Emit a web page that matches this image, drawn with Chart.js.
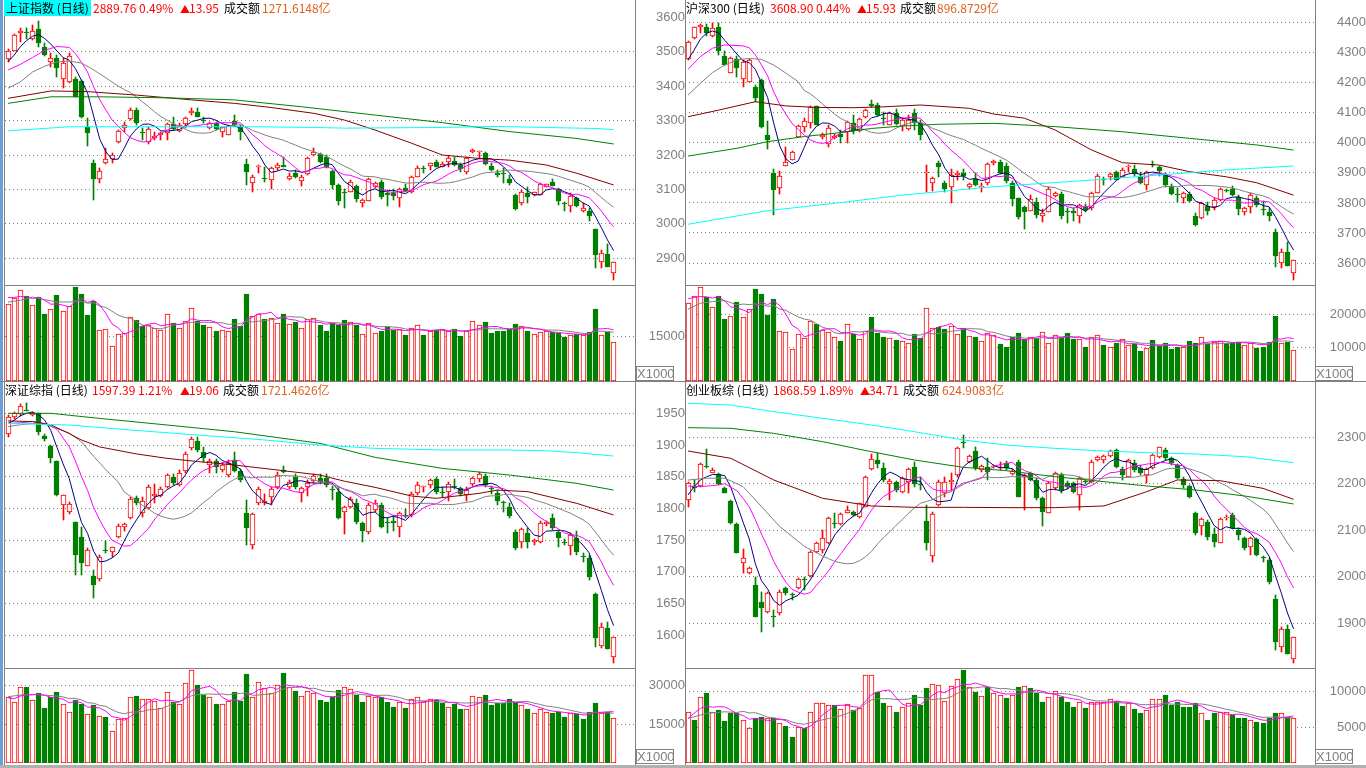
<!DOCTYPE html>
<html>
<head>
<meta charset="utf-8">
<script src="https://cdn.jsdelivr.net/npm/chart.js@4.4.1/dist/chart.umd.min.js"></script>
<style>
  body { margin: 0; width: 1366px; height: 768px; overflow: hidden; position: relative; background: #fff;
         font-family: "Noto Sans CJK SC", sans-serif; }
  canvas { position: absolute; }
  .ln { position: absolute; background: #808080; }
  .t { position: absolute; font-size: 12px; line-height: 16px; white-space: nowrap; z-index: 5; }
  .tri { font-size: 10px; }
  .red { color: #ff0000; }
  .org { color: #e0601e; }
  .x1000 { position: absolute; z-index: 5; border: 1px solid #808080; color: #808080; background: #fff;
           font: 13px "Liberation Sans", sans-serif; line-height: 13px; width: 36px; height: 13px; text-align: center; }
</style>
</head>
<body>
<!-- frame lines -->
<div class="ln" style="left:0;top:0;width:3px;height:768px;background:#6c9fd6"></div>
<div class="ln" style="left:4px;top:0;width:1px;height:765px"></div>
<div class="ln" style="left:635px;top:0;width:1px;height:765px"></div>
<div class="ln" style="left:685px;top:0;width:1px;height:765px"></div>
<div class="ln" style="left:1315px;top:0;width:1px;height:765px"></div>
<div class="ln" style="left:5px;top:285px;width:630px;height:1px"></div>
<div class="ln" style="left:685px;top:285px;width:630px;height:1px"></div>
<div class="ln" style="left:0;top:381px;width:1366px;height:1px"></div>
<div class="ln" style="left:5px;top:668px;width:630px;height:1px"></div>
<div class="ln" style="left:685px;top:668px;width:630px;height:1px"></div>
<div class="ln" style="left:0;top:765px;width:1366px;height:3px;background:#b0b0b0"></div>

<canvas id="c1" width="685" height="285" style="left:0;top:0"></canvas>
<canvas id="v1" width="685" height="95" style="left:0;top:286px"></canvas>
<canvas id="c2" width="681" height="285" style="left:685px;top:0"></canvas>
<canvas id="v2" width="681" height="95" style="left:685px;top:286px"></canvas>
<canvas id="c3" width="685" height="286" style="left:0;top:382px"></canvas>
<canvas id="v3" width="685" height="94" style="left:0;top:669px"></canvas>
<canvas id="c4" width="681" height="286" style="left:685px;top:382px"></canvas>
<canvas id="v4" width="681" height="94" style="left:685px;top:669px"></canvas>

<!-- titles -->
<div class="t" style="left:4px;top:0;width:87px;height:16px;background:#00ffff;z-index:4"></div>
<div class="t" style="left:6px;top:0">上证指数 (日线)</div>
<div class="t red" style="left:93px;top:0">2889.76 0.49%</div>
<div class="t red tri" style="left:180px;top:1px">▲</div>
<div class="t red" style="left:189px;top:0">13.95</div>
<div class="t" style="left:224px;top:0">成交额</div>
<div class="t org" style="left:262px;top:0">1271.6148亿</div>

<div class="t" style="left:686px;top:0">沪深300 (日线)</div>
<div class="t red" style="left:770px;top:0">3608.90 0.44%</div>
<div class="t red tri" style="left:857px;top:1px">▲</div>
<div class="t red" style="left:866px;top:0">15.93</div>
<div class="t" style="left:900px;top:0">成交额</div>
<div class="t org" style="left:937px;top:0">896.8729亿</div>

<div class="t" style="left:5px;top:382px">深证综指 (日线)</div>
<div class="t red" style="left:92px;top:382px">1597.39 1.21%</div>
<div class="t red tri" style="left:180px;top:383px">▲</div>
<div class="t red" style="left:189px;top:382px">19.06</div>
<div class="t" style="left:223px;top:382px">成交额</div>
<div class="t org" style="left:261px;top:382px">1721.4626亿</div>

<div class="t" style="left:686px;top:382px">创业板综 (日线)</div>
<div class="t red" style="left:773px;top:382px">1868.59 1.89%</div>
<div class="t red tri" style="left:860px;top:383px">▲</div>
<div class="t red" style="left:869px;top:382px">34.71</div>
<div class="t" style="left:903px;top:382px">成交额</div>
<div class="t org" style="left:942px;top:382px">624.9083亿</div>

<div class="x1000" style="left:636px;top:366px">X1000</div>
<div class="x1000" style="left:1315px;top:366px">X1000</div>
<div class="x1000" style="left:636px;top:749px">X1000</div>
<div class="x1000" style="left:1315px;top:749px">X1000</div>

<script>
// ---------- 上证指数 ----------
const shOpen = [3478,3503,3553,3558,3536,3566,3514,3471,3481,3420, 3411,3421,3415,3282,3176,3129,3176,3188,3239,3277,
  3304,3331,3267,3239,3248,3259,3263,3290,3270,3290, 3321,3324,3299,3277,3292,3268,3258,3300,3282,3174,
  3119,3166,3131,3127,3161,3171,3130,3149,3125,3145, 3200,3203,3195,3153,3113,3093,3093,3110,3061,3067,
  3108,3122,3089,3090,3074,3103,3093,3137,3161,3169, 3180,3166,3180,3182,3171,3151,3208,3208,3205,3169,
  3149,3148,3130,3084,3061,3089,3084,3084,3108,3122, 3100,3059,3053,3074,3038,3038,2984,2888,2912,2856];
const shHigh = [3508,3551,3568,3568,3577,3590,3524,3495,3490,3481, 3495,3427,3418,3306,3185,3161,3219,3205,3273,3297,
  3336,3336,3277,3282,3268,3268,3292,3311,3292,3311, 3336,3337,3309,3296,3296,3282,3287,3316,3287,3187,
  3142,3171,3166,3166,3176,3195,3147,3156,3142,3194, 3219,3207,3200,3156,3116,3101,3127,3113,3072,3132,
  3121,3127,3098,3100,3103,3116,3140,3168,3169,3178, 3185,3180,3197,3193,3176,3195,3216,3212,3209,3176,
  3156,3161,3142,3087,3098,3108,3093,3118,3116,3129, 3104,3064,3089,3078,3061,3045,2985,2924,2941,2888];
const shLow = [3470,3502,3529,3537,3535,3514,3488,3456,3426,3394, 3410,3369,3306,3226,3069,3118,3175,3176,3235,3268,
  3302,3287,3243,3232,3243,3243,3245,3272,3268,3277, 3316,3309,3292,3275,3272,3253,3258,3284,3243,3113,
  3093,3147,3123,3100,3156,3164,3127,3133,3110,3142, 3197,3176,3161,3100,3055,3046,3092,3064,3049,3066,
  3104,3071,3052,3069,3049,3093,3090,3135,3147,3156, 3164,3166,3166,3169,3151,3145,3205,3190,3171,3154,
  3137,3118,3113,3041,3055,3061,3081,3083,3107,3110, 3055,3038,3035,3049,3035,3009,2871,2871,2874,2837];
const shClose = [3502,3548,3561,3553,3560,3526,3490,3481,3452,3466, 3488,3369,3311,3265,3129,3154,3187,3200,3270,3287,
  3331,3292,3265,3275,3255,3263,3289,3275,3287,3306, 3328,3311,3298,3292,3275,3280,3284,3287,3268,3151,
  3137,3169,3129,3161,3171,3166,3139,3135,3137,3190, 3210,3179,3166,3113,3067,3090,3122,3071,3069,3129,
  3118,3077,3084,3081,3100,3096,3137,3163,3159,3176, 3166,3174,3192,3171,3159,3190,3214,3212,3173,3156,
  3143,3146,3118,3043,3093,3077,3092,3116,3115,3110, 3067,3057,3082,3052,3045,3024,2910,2914,2874,2890];
const shVol = [26062,27972,30667,28646,25613,28197,22693,24265,28983,23592, 25164,31790,29431,22356,27073,17303,17528,11913,15843,16180,
  21682,20672,18426,18763,17864,17303,22581,19549,17864,20335, 24603,20110,18763,18314,16966,17303,16966,21009,18426,29431,
  21794,22581,21009,21233,19549,22693,19324,19773,17864,21009, 21233,18763,16742,19549,18987,20447,19886,18763,15956,19549,
  16180,16742,18089,17078,17640,15394,17864,18875,15619,16742, 17078,17528,16742,17528,15282,16742,20110,18763,19886,16180,
  16966,16966,17640,19324,18426,16966,15956,16517,16742,16405, 16180,14721,15619,15956,15394,16517,24378,15619,16517,13149];
const shMa5Head = [[0,3471],[1,3490],[2,3514],[3,3532]];
const shMa10Head = [[0,3447],[2,3463],[4,3483],[6,3504],[8,3515]];
const shMa20Head = [[0,3394],[2,3412],[4,3441],[6,3458],[8,3470],[10,3473],[12,3467],[14,3447],[16,3424],[18,3400]];
const shMa60 = [[0,3364.5],[7,3386],[13,3384],[21,3374],[30,3360],[37,3350],[43,3338],[50,3321],[55,3301.5],[60,3272.5],[66,3234],[71,3200],[77,3190],[82,3185],[88,3171],[93,3147],[99,3113]];
const shMa120 = [[0,3350],[7,3369],[15,3369],[26,3366],[37,3360],[48,3340],[60,3316],[71,3294],[82,3268],[93,3248],[99,3232]];
const shMa250 = [[0,3270],[10,3282],[20,3282],[30,3282],[40,3282],[50,3280],[55,3278],[71,3280],[80,3283],[85,3281],[96,3277],[99,3274]];
const shVolMa5Head = [[0,28170],[1,28170],[2,28500],[3,28300]];
const shVolMa10Head = [[0,26620],[2,27200],[4,28300],[6,27400],[8,26600]];
const shTicks = [3600,3500,3400,3300,3200,3100,3000,2900];
const shVolTicks = [15000];

// ---------- 沪深300 ----------
const hsOpen = [4278,4348,4387,4385,4356,4387,4289,4234,4278,4213, 4204,4185,4209,4026,3899,3849,3924,3943,4020,4052,
  4065,4123,4018,3996,4015,4029,4037,4065,4040,4087, 4129,4126,4082,4059,4098,4057,4045,4098,4067,3899,
  3865,3932,3867,3854,3893,3901,3852,3879,3852,3865, 3932,3937,3924,3865,3815,3788,3773,3802,3756,3771,
  3823,3830,3773,3774,3757,3788,3782,3834,3878,3885, 3902,3887,3919,3912,3890,3860,3927,3919,3896,3856,
  3828,3815,3830,3757,3749,3790,3788,3810,3843,3845, 3821,3771,3788,3815,3779,3771,3704,3599,3638,3568];
const hsHigh = [4340,4386,4396,4396,4400,4400,4307,4285,4289,4276, 4280,4193,4213,4074,3913,3906,3987,3972,4060,4082,
  4122,4123,4033,4058,4031,4043,4073,4092,4082,4112, 4143,4132,4102,4102,4112,4082,4092,4112,4076,3926,
  3885,3940,3874,3913,3906,3914,3867,3901,3867,3932, 3942,3943,3932,3873,3817,3790,3826,3818,3779,3852,
  3836,3836,3782,3782,3796,3796,3838,3896,3885,3900, 3907,3916,3926,3926,3904,3907,3940,3924,3901,3863,
  3849,3837,3837,3765,3803,3803,3817,3849,3846,3855, 3826,3788,3832,3823,3808,3782,3712,3647,3671,3610];
const hsLow = [4276,4347,4365,4356,4353,4292,4259,4233,4218,4185, 4203,4137,4048,3978,3760,3830,3924,3943,4018,4037,
  4048,4059,4014,3987,4012,4000,4000,4031,4037,4082, 4118,4090,4058,4058,4058,4040,4042,4043,4010,3837,
  3840,3885,3838,3800,3877,3877,3846,3855,3837,3860, 3926,3896,3868,3790,3746,3712,3773,3749,3738,3771,
  3821,3746,3732,3739,3734,3769,3777,3832,3860,3876, 3876,3887,3902,3891,3862,3843,3921,3890,3853,3826,
  3804,3801,3804,3723,3747,3759,3777,3806,3838,3822, 3760,3760,3768,3785,3760,3741,3586,3583,3590,3544];
const hsClose = [4337,4385,4392,4367,4381,4307,4259,4282,4248,4270, 4276,4148,4054,4010,3843,3891,3937,3969,4056,4073,
  4118,4059,4026,4050,4023,4020,4068,4040,4078,4109, 4123,4093,4080,4098,4063,4076,4076,4067,4026,3904,
  3882,3919,3845,3893,3901,3891,3862,3860,3857,3929, 3938,3901,3873,3812,3752,3769,3812,3760,3765,3845,
  3832,3758,3769,3766,3793,3777,3834,3890,3876,3896, 3876,3910,3924,3896,3865,3904,3925,3907,3860,3830,
  3826,3834,3808,3727,3801,3774,3810,3845,3840,3826, 3779,3782,3826,3793,3777,3757,3623,3638,3590,3609];
const hsVol = [23283,25479,28074,25080,22185,25479,18593,19491,23582,19191, 21487,27574,26077,19790,24580,14999,14600,9511,14001,12904,
  17994,17096,15299,14800,13104,12006,16996,14001,12505,15100, 19291,14500,13303,12804,12305,12006,11307,14101,13004,21786,
  15998,16297,15598,16497,14101,15998,13603,13303,12006,14301, 13803,11107,10309,13104,14301,12505,13104,13004,14600,11307,
  13803,13104,14301,12505,12505,10309,13303,13803,10809,10309, 11307,12505,10809,11107,9012,9811,12305,10509,11307,9611,
  10110,10309,12006,11506,13104,11107,11606,12105,11307,11307, 11606,10907,11506,10010,10309,11606,19491,11506,11805,9311];
const hsMa5Head = [[0,4278],[1,4309],[2,4345],[3,4365]];
const hsMa10Head = [[0,4245],[2,4287],[4,4315],[6,4326],[8,4324]];
const hsMa20Head = [[0,4159],[2,4198],[4,4234],[6,4259],[8,4276],[10,4281],[12,4278],[14,4259],[16,4232],[18,4204]];
const hsMa60 = [[0,4087],[5,4109],[11,4137],[16,4123],[21,4118],[27,4117],[32,4120],[38,4126],[46,4115],[50,4096],[55,4082],[60,4043],[66,3976],[71,3934],[77,3926],[82,3904],[88,3887],[93,3867],[99,3826]];
const hsMa120 = [[0,3956],[8,3982],[13,4004],[19,4021],[24,4032],[30,4048],[35,4056],[41,4062],[50,4065],[60,4054],[71,4037],[82,4015],[93,3993],[99,3976]];
const hsMa250 = [[0,3729],[13,3774],[24,3799],[35,3826],[50,3854],[66,3876],[77,3893],[88,3910],[99,3923]];
const hsVolMa5Head = [[0,24580],[1,25000],[2,25300],[3,25200]];
const hsVolMa10Head = [[0,21500],[2,23280],[4,23780],[6,24080],[8,22780]];
const hsTicks = [4400,4300,4200,4100,4000,3900,3800,3700,3600];
const hsVolTicks = [20000,10000];

// ---------- 深证综指 ----------
const szOpen = [1917.4,1943.7,1948.5,1956,1947.4,1950,1914,1898.5,1875.3,1805.5, 1794.9,1779,1755.5,1709,1693.5,1688.4,1734,1732,1754.5,1770.3,
  1784.5,1816,1793,1800.3,1820,1819.7,1834.3,1849,1837,1859.5, 1894.8,1906.3,1889.5,1868.5,1874.8,1860.6,1852.7,1876.4,1859.5,1792.4,
  1742.4,1808,1809,1818,1833.4,1860.6,1833.4,1849,1824,1833.4, 1843.8,1848.6,1848.6,1830,1826.5,1794.9,1802.8,1808,1777.4,1763.4,
  1797.6,1805.5,1778,1780.7,1771.3,1790,1789.7,1824,1833.4,1837, 1846.4,1826.5,1826.5,1834,1831.5,1821,1838.6,1846,1851.2,1832,
  1825,1808.4,1801.8,1763.4,1747.6,1760.8,1746.6,1747.6,1775.5,1784.5, 1763.4,1745.3,1741.3,1753,1725,1721.4,1665.2,1583.2,1611,1566.3];
const szHigh = [1947,1952.6,1964.7,1966,1952.6,1950,1917.4,1900,1875.3,1821, 1810,1779,1771,1737,1703,1727,1748,1740,1776,1777.4,
  1818,1820,1818,1837,1838.6,1834,1855,1854.4,1860,1889, 1912,1913,1897.5,1877.5,1877.5,1871,1876.4,1889.5,1862,1813.4,
  1792.4,1834,1823,1834,1857,1867,1845,1854.4,1834,1845, 1855,1854.4,1854.4,1835.4,1834,1804.4,1818,1815,1779,1808,
  1813.4,1808,1784.5,1790,1794.9,1798.7,1826,1841,1835.5,1846, 1849.6,1834,1841.7,1846,1834,1834,1849.6,1857,1854.4,1836,
  1829,1811,1808,1765.6,1770,1770,1752.6,1779.5,1780.9,1792, 1766,1751.3,1761.5,1764.6,1729.4,1727,1666.3,1619,1621.5,1597];
const szLow = [1913,1941,1946,1954,1945.8,1915.8,1906.5,1872,1820,1781.8, 1792,1695,1695,1709,1659.3,1686,1730,1724,1753,1764,
  1784,1805,1787,1799,1808,1818,1832,1837,1835,1856, 1892,1889,1874,1855.5,1855.5,1857,1849.6,1858,1841,1742.4,
  1736.6,1806,1806,1805.5,1831,1856,1831,1831,1810.8,1820, 1840.6,1839,1834,1813.4,1783,1760,1800,1776,1747.6,1760.4,
  1795,1768.7,1761.8,1764,1754.5,1785.4,1787,1822,1826,1833, 1823.4,1818.7,1812,1830,1820,1812,1836,1842.3,1834,1823,
  1806,1795,1785,1734,1737.2,1737.2,1742,1745,1772.4,1765.6, 1740,1742.4,1726.7,1727,1716,1687.2,1581,1579.6,1579,1556.8];
const szClose = [1943.7,1950,1961.5,1954,1951,1921,1909,1879,1821,1821, 1807,1726.7,1714.5,1734.5,1679.3,1724,1733.5,1739,1772.4,1775.5,
  1814.4,1809,1811,1833.4,1822.2,1830,1852,1840,1856.4,1886, 1909,1892.2,1879,1874.8,1864.8,1868.5,1872,1859.5,1844.9,1768.7,
  1791.3,1830,1812,1830,1852.8,1858,1842,1833.4,1832,1840.6, 1851.7,1842.3,1837,1828.6,1785.5,1802.8,1814.4,1779,1764.5,1805.5,
  1809,1771.3,1777,1776.6,1792.4,1788.3,1822.3,1837,1835.5,1844.9, 1826.5,1824,1838.6,1833.4,1822.5,1829,1847.6,1854.4,1837,1831,
  1811,1808,1788.3,1737.2,1767,1747.6,1750.3,1777.4,1779.3,1768.7, 1753,1745,1758.2,1731.8,1723.3,1692.4,1595.3,1612.7,1579,1597.4];
const szVol = [25493,23810,29378,29378,24328,27047,21349,25493,27436,22774, 19667,24457,22774,18889,22514,18241,17982,12284,17076,17335,
  25623,25882,24716,24716,23939,21220,27436,23551,22774,30932, 36112,30155,26529,25493,22774,22774,23939,27436,23939,34429,
  25493,31321,29119,27047,30155,34817,29378,27954,25882,28083, 27047,24457,23551,25752,28342,29378,28731,26529,23551,26011,
  25752,25752,23551,21738,23551,21479,24716,25493,23810,24716, 24587,23292,21608,22903,20962,20962,25882,25493,26400,22644,
  23162,23162,24846,23810,22385,20962,19538,20832,19926,19538, 19926,17982,19538,18889,17076,19926,23292,19279,19926,17335];
const szMa5Head = [[0,1934],[1,1939],[2,1946],[3,1950]];
const szMa10Head = [[0,1934],[2,1935],[4,1937],[6,1934],[8,1925]];
const szMa20Head = [[0,1929],[2,1932],[4,1934],[6,1933],[8,1926],[10,1919],[12,1905],[14,1882],[16,1861],[18,1842]];
const szMa60 = [[0,1938],[4,1937],[7,1932],[10,1918],[12,1908],[15,1897],[21,1886],[26,1879],[31,1874],[37,1868.5],[42,1863],[51,1852.7],[55,1843],[60,1833.3],[66,1819.6],[70,1816],[77,1823.8],[80,1829],[85,1826.5],[93,1808],[99,1789.7]];
const szMa120 = [[0,1950],[7,1950],[15,1942],[26,1931.6],[37,1921],[51,1902.7],[60,1880.6],[71,1863.2],[82,1852.7],[93,1839.6],[99,1829]];
const szMa250 = [[0,1934],[10,1931.6],[20,1923.7],[31,1915.8],[42,1908],[51,1900],[60,1894.8],[71,1892.2],[82,1892.2],[88,1891],[93,1888],[99,1882.7]];
const szVolMa5Head = [[0,25300],[1,25000],[2,26000],[3,26500]];
const szVolMa10Head = [[0,25750],[2,26400],[4,26660],[6,26400],[8,26000]];
const szTicks = [1950,1900,1850,1800,1750,1700,1650,1600];
const szVolTicks = [30000,15000];

// ---------- 创业板综 ----------
const cyOpen = [2165.2,2195,2195.3,2238.3,2223.9,2220.3,2191.7,2163,2112.8,2030.4, 2008.9,1982.4,1946.5,1923.6,1916,1921.4,1975.2,1962,1975.2,1994,
  2001.7,2054.1,2057.6,2072,2113.5,2113.5,2137.9,2140.1,2127.9,2150.8, 2231.1,2251.2,2233.3,2199.6,2204.6,2183.1,2204.6,2235.4,2197,2120,
  2044.7,2154.4,2179.5,2204.6,2218.9,2289.5,2247.6,2270.5,2229.7,2235.4, 2235.4,2233.3,2244,2221,2247.6,2215.3,2222.5,2208.2,2168.8,2136.5,
  2190.2,2220.3,2201,2201,2176,2204.8,2204.6,2251.2,2251.2,2259.8, 2272.7,2231.1,2215.3,2244,2233.3,2218.9,2233.3,2258.4,2272.7,2254.8,
  2240.4,2209.6,2195.3,2136.5,2109.2,2118.6,2092,2073.4,2125.7,2132.9, 2100.6,2082.7,2064.8,2080.6,2040,2036.1,1951.5,1849.8,1887,1822.5];
const cyHigh = [2204.6,2208,2244,2274.8,2233.3,2222.5,2193.8,2165.2,2115,2059, 2021.8,2000.3,1968,1968,1928.6,1971.6,1978.8,1964.4,1996.7,2000.3,
  2056.2,2075.5,2100.6,2129.3,2136.5,2136.5,2152.2,2142.2,2159.4,2216.8, 2264,2265.5,2245.4,2209.6,2206.7,2213.9,2233.3,2247.6,2213.9,2154.4,
  2140,2208.2,2215.3,2222.5,2279.8,2304.9,2261.9,2279.8,2240.4,2254.8, 2240.4,2247.6,2249.7,2231.1,2251.2,2220.3,2226,2211.7,2172.3,2204.6,
  2226.1,2222.5,2205,2204.6,2215.3,2208.2,2251.2,2259.8,2261.9,2272.7, 2274.8,2235.4,2252.6,2251.2,2240.4,2233.3,2264,2279.8,2276.3,2258.4,
  2242.6,2215.3,2197.4,2140.1,2125.7,2122.1,2104.2,2125.7,2132.9,2136.5, 2104.2,2086.3,2086.3,2082.7,2044.7,2039.7,1960.9,1892.8,1896.3,1871.3];
const cyLow = [2149.4,2183,2193.8,2233.3,2222.5,2197.4,2179.5,2113.5,2050.5,2008.9, 2006,1914.3,1882,1921.4,1892.8,1917.9,1960.8,1950.1,1973,1971.6,
  2000.3,2051.9,2050.5,2070.5,2104.2,2111.4,2136.5,2130.7,2125.7,2149.4, 2229.7,2233.3,2204.6,2165.2,2183.1,2180.9,2179.5,2193.8,2186.7,2057.6,
  2032.6,2152.2,2172.3,2186.7,2215.3,2276.3,2245.4,2229.7,2226.1,2208.2, 2233.3,2229.7,2229.7,2218.9,2172.3,2143.6,2205,2165.2,2110,2136.5,
  2186.7,2179.5,2188,2179.5,2143.6,2199.6,2201,2249.7,2244,2258.4, 2233.3,2208.2,2213.9,2226.1,2218.9,2201,2231.1,2254.8,2251.2,2240.4,
  2211,2190.2,2168.8,2089.9,2089.9,2079.1,2063.4,2072,2122.1,2102, 2079.1,2057.6,2046.9,2044.7,2032.6,1984.5,1842.6,1839,1834,1815.4];
const cyClose = [2201,2192,2241.8,2235.4,2229.6,2199.6,2180.9,2115,2051.9,2039.7, 2019.6,1914.3,1932.2,1964.4,1914,1968,1964.4,1960.8,1994.5,1993.1,
  2054.1,2073.4,2082.7,2127.2,2112.8,2134.3,2143.6,2132.9,2158,2215.3, 2253.3,2242.6,2208.2,2206.7,2186.7,2211.7,2231.1,2198.8,2196.7,2072,
  2134.3,2204.6,2204.6,2208.2,2276.3,2288.4,2259.8,2233.3,2239,2226.1, 2238.3,2236.8,2233.3,2228.2,2172.3,2218.9,2208.2,2168.8,2140.1,2201,
  2223.9,2186.7,2193.8,2183.1,2211.7,2203.9,2247.6,2256.9,2259.8,2270.5, 2235.4,2218.9,2251.2,2229.7,2222.5,2231.1,2261.9,2278.4,2254.8,2244,
  2213.2,2197.4,2170.9,2094.9,2123.6,2086.3,2075.6,2123.6,2129.3,2104.2, 2089.9,2062.7,2082.7,2046.9,2039.7,1989.5,1860.5,1887,1834,1869.8];
const cyVol = [7099,6023,9205,9767,7099,7427,5883,7052,6959,6023, 4853,6351,6397,6257,6257,5555,5227,3589,4993,4853,
  7193,8363,8363,8129,8129,7567,8270,7427,7661,12341, 12341,10001,8457,8036,7099,7801,8457,9533,8129,10469,
  11077,10937,8738,10796,11733,13043,10703,9907,9392,10609, 9767,9533,9065,9533,10609,10796,10469,9767,8598,9205,
  10141,9205,8598,7895,8598,7661,8598,8598,8598,8925, 8738,8036,8363,7567,6959,7427,8972,8972,9533,8129,
  8598,7895,7895,8457,6959,6023,6959,7193,7099,6725, 6351,6257,6023,5789,5649,6257,7052,6959,6491,6257];
const cyMa5Head = [[0,2176],[1,2194],[2,2208],[3,2215]];
const cyMa10Head = [[0,2195],[2,2194],[4,2196],[6,2200],[8,2185]];
const cyMa20Head = [[0,2208],[3,2212],[6,2212],[9,2194],[12,2151],[15,2108]];
const cyMa60 = [[0,2270.5],[7,2254.8],[14,2208.2],[22,2168.8],[30,2152.3],[37,2149.4],[45,2149.4],[52,2148.7],[60,2148.7],[68,2152.3],[75,2183.1],[80,2208.2],[87,2206.7],[94,2190.2],[99,2166.6]];
const cyMa120 = [[0,2320.7],[7,2319.3],[14,2308.5],[22,2290.6],[30,2269],[37,2251.2],[45,2235.4],[52,2228.2],[60,2215.3],[68,2204.6],[75,2195.3],[83,2186.7],[91,2173.8],[99,2156.6]];
const cyMa250 = [[0,2373],[7,2369.4],[14,2355.1],[22,2340.8],[30,2326.4],[37,2312.1],[45,2294.2],[52,2283.4],[60,2276.3],[68,2270.5],[75,2266.9],[83,2264],[91,2258.3],[99,2245.4]];
const cyVolMa5Head = [[0,6260],[1,7000],[2,7660],[3,7990]];
const cyVolMa10Head = [[0,6260],[3,6960],[6,7190],[8,7100]];
const cyTicks = [2300,2200,2100,2000,1900];
const cyVolTicks = [10000,5000];

// ---------- drawing ----------
const RED = '#ff0000', GREEN = '#008000', WHITE = '#ffffff';
const NAVY = '#000080', MAGENTA = '#ff00ff', GRAY = '#808080', DARKRED = '#800000', CYAN = '#00ffff';
const SLOTS = 103; // 100 days + a little room on the right
const slots = Array.from({length: SLOTS}, (_, i) => i);

Chart.defaults.font.family = '"Liberation Sans", sans-serif';

function sparse(pts) {
  const a = new Array(100).fill(null);
  pts.forEach(([i, v]) => { a[i] = v; });
  return a;
}
// moving average of the read values; the first days use values
function ma(src, n, head) {
  const a = sparse(head);
  for (let i = n - 1; i < src.length; i++) {
    let s = 0;
    for (let j = i - n + 1; j <= i; j++) s += src[j];
    a[i] = s / n;
  }
  return a;
}

// snap bar elements to whole pixels so candles stay crisp like the terminal's
const snapBars = {
  id: 'snapBars',
  afterDatasetsUpdate(chart) {
    chart.data.datasets.forEach((ds, i) => {
      const meta = chart.getDatasetMeta(i);
      if (meta.type !== 'bar') return;
      meta.data.forEach(el => {
        el.x = Math.floor(el.x) + 0.5;
        const y = Math.round(el.y);
        let b = Math.round(el.base);
        if (b === y) b = y + 1;
        el.y = y; el.base = b;
      });
    });
  }
};

const measure = document.createElement('canvas').getContext('2d');
measure.font = '13px "Liberation Sans"';

function yAxis(min, max, ticks, axisW, labelRight, noGrid) {
  const widest = Math.max(...ticks.map(t => measure.measureText(String(t)).width));
  return {
    position: 'right', min, max,
    afterBuildTicks: s => { s.ticks = ticks.map(v => ({value: v})); },
    afterFit: s => { s.width = axisW; s.paddingTop = 0; s.paddingBottom = 0; },
    ticks: { autoSkip: false, color: GRAY, font: {size: 13}, crossAlign: 'far',
             padding: labelRight - widest, callback: v => String(v) },
    grid: { drawTicks: false, lineWidth: 1,
            color: c => (noGrid && c.tick && noGrid.includes(c.tick.value)) ? 'rgba(0,0,0,0)' : GRAY },
    border: { display: false, dash: [1, 3] }
  };
}

function options(y, padLeft) {
  return {
    responsive: false, animation: false, events: [], devicePixelRatio: 1,
    layout: { padding: { left: padLeft, right: 0, top: 0, bottom: 0 } },
    plugins: { legend: { display: false }, tooltip: { enabled: false } },
    scales: { x: { display: false, offset: true }, y }
  };
}

function line(data, color) {
  return { type: 'line', data, borderColor: color, borderWidth: 1, pointRadius: 0,
           spanGaps: true, tension: 0, order: 0 };
}

function candles(id, o, h, l, c, lines, y, padLeft) {
  const up = c.map((v, i) => v >= o[i]);
  new Chart(document.getElementById(id), {
    type: 'bar',
    data: {
      labels: slots,
      datasets: [
        ...lines.map(([d, col]) => line(d, col)),
        { data: o.map((v, i) => [v, c[i]]), backgroundColor: up.map(u => u ? WHITE : GREEN),
          borderColor: up.map(u => u ? RED : GREEN), borderWidth: 1, borderSkipped: false,
          barThickness: 5, grouped: false, minBarLength: 1, order: 1 },
        { data: l.map((v, i) => [v, h[i]]), backgroundColor: up.map(u => u ? RED : GREEN),
          barThickness: 1, grouped: false, order: 2 }
      ]
    },
    options: options(y, padLeft),
    plugins: [snapBars]
  });
}

function volumes(id, vol, o, c, m5, m10, y, padLeft) {
  const up = c.map((v, i) => v >= o[i]);
  new Chart(document.getElementById(id), {
    type: 'bar',
    data: {
      labels: slots,
      datasets: [
        line(m5, MAGENTA), line(m10, GRAY),
        { data: vol, backgroundColor: up.map(u => u ? WHITE : GREEN),
          borderColor: up.map(u => u ? RED : GREEN), borderWidth: 1, borderSkipped: false,
          barThickness: 5, grouped: false, order: 1 }
      ]
    },
    options: options(y, padLeft),
    plugins: [snapBars]
  });
}

function panel(ids, d, yc, yv, padLeft) {
  candles(ids[0], d.o, d.h, d.l, d.c, [
    [sparse(d.m250), CYAN], [sparse(d.m120), GREEN], [sparse(d.m60), DARKRED],
    [ma(d.c, 20, d.m20h), GRAY], [ma(d.c, 10, d.m10h), MAGENTA], [ma(d.c, 5, d.m5h), NAVY]
  ], yc, padLeft);
  volumes(ids[1], d.v, d.o, d.c, ma(d.v, 5, d.vm5h), ma(d.v, 10, d.vm10h), yv, padLeft);
}

panel(['c1', 'v1'], { o: shOpen, h: shHigh, l: shLow, c: shClose, v: shVol,
  m5h: shMa5Head, m10h: shMa10Head, m20h: shMa20Head, m60: shMa60, m120: shMa120, m250: shMa250,
  vm5h: shVolMa5Head, vm10h: shVolMa10Head },
  yAxis(2822.5, 3650.1, shTicks, 50, 47, [3600]), yAxis(0, 32015, shVolTicks, 50, 47), 5);

panel(['c2', 'v2'], { o: hsOpen, h: hsHigh, l: hsLow, c: hsClose, v: hsVol,
  m5h: hsMa5Head, m10h: hsMa10Head, m20h: hsMa20Head, m60: hsMa60, m120: hsMa120, m250: hsMa250,
  vm5h: hsVolMa5Head, vm10h: hsVolMa10Head },
  yAxis(3526.8, 4475.6, hsTicks, 51, 48), yAxis(0, 28443, hsVolTicks, 51, 48), 0);

panel(['c3', 'v3'], { o: szOpen, h: szHigh, l: szLow, c: szClose, v: szVol,
  m5h: szMa5Head, m10h: szMa10Head, m20h: szMa20Head, m60: szMa60, m120: szMa120, m250: szMa250,
  vm5h: szVolMa5Head, vm10h: szVolMa10Head },
  yAxis(1548.5, 1999.4, szTicks, 50, 47), yAxis(0, 36528, szVolTicks, 50, 47), 5);

panel(['c4', 'v4'], { o: cyOpen, h: cyHigh, l: cyLow, c: cyClose, v: cyVol,
  m5h: cyMa5Head, m10h: cyMa10Head, m20h: cyMa20Head, m60: cyMa60, m120: cyMa120, m250: cyMa250,
  vm5h: cyVolMa5Head, vm10h: cyVolMa10Head },
  yAxis(1803.9, 2418.9, cyTicks, 51, 48), yAxis(0, 13198, cyVolTicks, 51, 48), 0);
</script>
</body>
</html>
